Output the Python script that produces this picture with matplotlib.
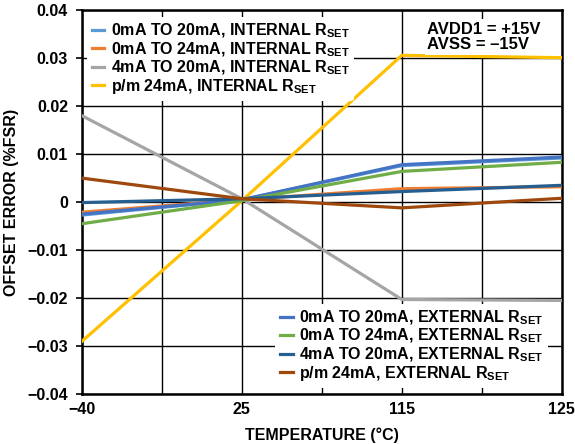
import numpy as np
import matplotlib.pyplot as plt

plt.rcParams['font.family'] = ['Liberation Sans', 'DejaVu Sans']
plt.rcParams['font.weight'] = 'bold'
plt.rcParams['mathtext.fontset'] = 'custom'
plt.rcParams['mathtext.rm'] = 'Liberation Sans:bold'
plt.rcParams['mathtext.default'] = 'rm'

# temperature categories (equally spaced on the chart)
temps = ['\u221240', '25', '115', '125']

# internal RSET series
int_0_20 = [-0.0027, 0.0005, 0.0076, 0.0092]
int_0_24 = [-0.0021, 0.0005, 0.0028, 0.0032]
int_4_20 = [0.0180, 0.0007, -0.0203, -0.0205]
int_pm24 = [-0.0290, 0.0003, 0.0306, 0.0301]

# external RSET series
ext_0_20 = [-0.0025, 0.0005, 0.0078, 0.0094]
ext_0_24 = [-0.0045, 0.0003, 0.0064, 0.0083]
ext_4_20 = [-0.0001, 0.0007, 0.0022, 0.0035]
ext_pm24 = [0.0050, 0.0007, -0.0012, 0.0008]

R = r'R$_{SET}$'
int_labels = ['0mA TO 20mA, INTERNAL ' + R, '0mA TO 24mA, INTERNAL ' + R,
              '4mA TO 20mA, INTERNAL ' + R, 'p/m 24mA, INTERNAL ' + R]
ext_labels = ['0mA TO 20mA, EXTERNAL ' + R, '0mA TO 24mA, EXTERNAL ' + R,
              '4mA TO 20mA, EXTERNAL ' + R, 'p/m 24mA, EXTERNAL ' + R]
int_colors = ['#5B9BD5', '#ED7D31', '#A5A5A5', '#FFC000']
ext_colors = ['#4472C4', '#70AD47', '#255E91', '#9E480E']

fig = plt.figure(figsize=(5.75, 4.44), dpi=100)
ax = fig.add_axes([0.1426, 0.1126, 0.8344, 0.8644])

x = np.arange(len(temps))
int_lines = []
for y, c, lab in zip([int_0_20, int_0_24, int_4_20, int_pm24], int_colors, int_labels):
    l, = ax.plot(x, y, color=c, lw=2.3, label=lab, zorder=3)
    int_lines.append(l)
ext_lines = []
for y, c, lab in zip([ext_0_20, ext_0_24, ext_4_20, ext_pm24], ext_colors, ext_labels):
    l, = ax.plot(x, y, color=c, lw=2.3, label=lab, zorder=3)
    ext_lines.append(l)

ax.set_xlim(0, 3)
ax.set_ylim(-0.04, 0.04)
ax.set_xticks(x)
ax.set_xticklabels(temps)
ax.set_xticks(np.arange(0.5, 3, 1), minor=True)
ax.set_yticks(np.arange(-0.04, 0.041, 0.01))
ax.set_yticklabels(['\u22120.04', '\u22120.03', '\u22120.02', '\u22120.01', '0',
                    '0.01', '0.02', '0.03', '0.04'])
ax.grid(True, which='both', color='black', lw=1.0, zorder=0)
ax.tick_params(axis='both', which='both', length=0, labelsize=11.5, pad=6)
ax.tick_params(axis='y', length=4, width=1.2, direction='out')
for s in ax.spines.values():
    s.set_linewidth(1.8)

ax.set_xlabel('TEMPERATURE (\u00b0C)', fontsize=11.5, fontweight='bold', labelpad=7)
ax.set_ylabel('OFFSET ERROR (%FSR)', fontsize=11.5, fontweight='bold', labelpad=6)

leg1 = ax.legend(handles=int_lines, loc='upper left', bbox_to_anchor=(0.0, 0.995),
                 frameon=True, fontsize=11.5, handlelength=0.8, handletextpad=0.4,
                 labelspacing=0.0, borderpad=0.3, borderaxespad=0.3)
leg1.get_frame().set_edgecolor('none')
leg1.get_frame().set_facecolor('white')
leg1.get_frame().set_alpha(1)
ax.add_artist(leg1)

leg2 = ax.legend(handles=ext_lines, loc='lower right', bbox_to_anchor=(0.985, 0.0),
                 frameon=True, fontsize=11.5, handlelength=0.8, handletextpad=0.4,
                 labelspacing=0.0, borderpad=0.3, borderaxespad=0.4)
leg2.get_frame().set_edgecolor('none')
leg2.get_frame().set_facecolor('white')
leg2.get_frame().set_alpha(1)

ax.text(0.72, 0.97, 'AVDD1 = +15V\nAVSS = \u201315V', transform=ax.transAxes,
        fontsize=12, fontweight='bold', va='top', ha='left', linespacing=1.0,
        bbox=dict(facecolor='white', edgecolor='none', pad=2), zorder=5)

fig.savefig('out.png', dpi=100)
